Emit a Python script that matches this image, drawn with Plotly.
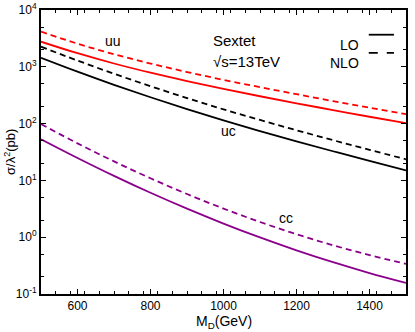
import plotly.graph_objects as go

# mass values (GeV)
m_d = [500, 600, 700, 800, 900, 1000, 1100, 1200, 1300, 1400, 1500]

# sigma/lambda^2 (pb)
uu_lo = [2767, 1734, 1143, 787, 561, 408, 303, 228, 173, 132, 102]
uu_nlo = [4160, 2553, 1663, 1141, 809, 589, 438, 329, 249, 191, 147]
uc_lo = [1443, 822, 482, 291, 180, 114, 74.0, 48.8, 32.6, 22.0, 15.0]
uc_nlo = [2260, 1288, 755, 455, 282, 178, 116, 76.4, 51.1, 34.5, 23.5]
cc_lo = [53, 24.8, 12.0, 6.05, 3.18, 1.74, 0.99, 0.587, 0.363, 0.234, 0.157]
cc_nlo = [98, 44.9, 21.6, 10.9, 5.76, 3.19, 1.85, 1.13, 0.722, 0.484, 0.34]

x_ticks = [600, 800, 1000, 1200, 1400]
y_ticks = [0.1, 1, 10, 100, 1000, 10000]
y_ticktext = ["10<sup>-1</sup>", "10<sup>0</sup>", "10<sup>1</sup>", "10<sup>2</sup>",
              "10<sup>3</sup>", "10<sup>4</sup>"]

RED = "#ff0000"
BLACK = "#000000"
PURPLE = "#8b008b"
DASH = "6px,4px"
FONT = "Liberation Sans, Arial, sans-serif"

fig = go.Figure()

series = [
    (uu_lo, RED, "solid"), (uu_nlo, RED, DASH),
    (uc_lo, BLACK, "solid"), (uc_nlo, BLACK, DASH),
    (cc_lo, PURPLE, "solid"), (cc_nlo, PURPLE, DASH),
]
for ys, col, dash in series:
    fig.add_trace(go.Scatter(
        x=m_d, y=ys, mode="lines",
        line=dict(color=col, width=1.8, dash=dash, shape="spline"),
        showlegend=False, hoverinfo="skip",
    ))

# curve labels
fig.add_annotation(x=697, y=3.46, text="uu", showarrow=False, font=dict(size=14))
fig.add_annotation(x=1014, y=1.87, text="uc", showarrow=False, font=dict(size=14))
fig.add_annotation(x=1172, y=0.33, text="cc", showarrow=False, font=dict(size=14))

# header text
fig.add_annotation(xref="paper", yref="paper", x=0.466, y=0.928, text="Sextet",
                   xanchor="left", showarrow=False, font=dict(size=15))
fig.add_annotation(xref="paper", yref="paper", x=0.466, y=0.855, text="√s=13TeV",
                   xanchor="left", showarrow=False, font=dict(size=15))

# hand-made legend (text left of the line sample)
for label, dash, yp in [("LO", "solid", 0.913), ("NLO", "dash", 0.849)]:
    fig.add_annotation(xref="paper", yref="paper", x=0.877, y=yp, text=label,
                       xanchor="right", showarrow=False, font=dict(size=14))
    fig.add_shape(type="line", xref="paper", yref="paper", x0=0.898, x1=0.967,
                  y0=yp, y1=yp, line=dict(color=BLACK, width=1.8, dash=dash))

# axis titles as annotations to keep the plot frame fixed
fig.add_annotation(xref="paper", yref="paper", x=0.5, y=-0.1, text="M<sub>D</sub>(GeV)",
                   showarrow=False, font=dict(size=14), yanchor="middle")
fig.add_annotation(xref="paper", yref="paper", x=-0.085, y=0.5, text="σ/λ<sup>2</sup>(pb)",
                   showarrow=False, font=dict(size=13), textangle=-90, xanchor="center")

axis_common = dict(
    showline=True, linecolor="black", linewidth=2, mirror="ticks",
    ticks="inside", ticklen=5, tickcolor="black", showgrid=False, zeroline=False,
    tickfont=dict(size=12, color="black"), automargin=False,
)
fig.update_xaxes(
    range=[500, 1500], tickvals=x_ticks,
    minor=dict(ticks="inside", ticklen=3, dtick=40, tick0=500, tickcolor="black"),
    **axis_common,
)
fig.update_yaxes(
    type="log", range=[-1, 4], tickvals=y_ticks, ticktext=y_ticktext,
    minor=dict(ticks="inside", ticklen=3, tickcolor="black"),
    **axis_common,
)

fig.update_layout(
    width=415, height=332,
    margin=dict(l=41, r=9, t=10, b=38),
    plot_bgcolor="white", paper_bgcolor="white",
    font=dict(family=FONT, color="black"),
)

# drop the default page margin so the figure fills the window
fig.write_html("out.html", config={"displayModeBar": False},
               post_script="document.body.style.margin='0';")
